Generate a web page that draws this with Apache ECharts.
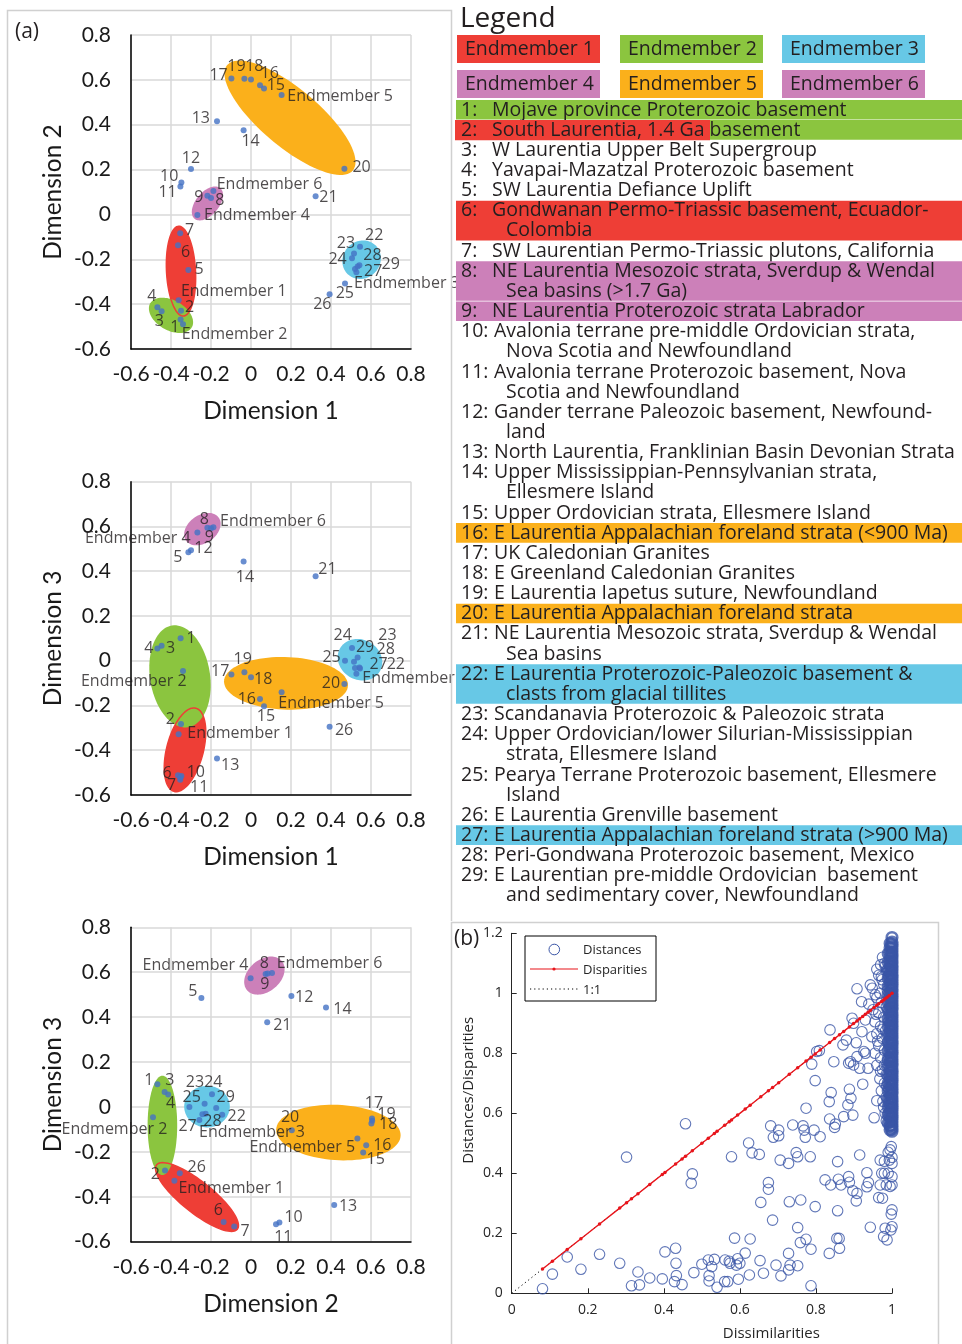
<!DOCTYPE html>
<html>
<head>
<meta charset="utf-8">
<title>MDS endmember plots</title>
<script src="https://cdn.jsdelivr.net/npm/echarts@6/dist/echarts.min.js"></script>
<style>
  html, body { margin: 0; padding: 0; background: #fff; }
  #chart { width: 962px; height: 1344px; }
</style>
</head>
<body>
<div id="chart"></div>
<script>
// sources 1..29 and the six endmembers
const pointNames = ['1','2','3','4','5','6','7','8','9','10','11','12','13','14','15','16','17','18','19','20',
  '21','22','23','24','25','26','27','28','29',
  'Endmember 1','Endmember 2','Endmember 3','Endmember 4','Endmember 5','Endmember 6'];
const dim1 = [-0.352,-0.35,-0.447,-0.468,-0.313,-0.365,-0.354,-0.2,-0.218,-0.348,-0.353,-0.3,-0.17,-0.037,0.065,0.045,-0.098,0.0,-0.033,0.467,
  0.323,0.545,0.542,0.505,0.47,0.393,0.527,0.515,0.533,
  -0.362,-0.34,0.52,-0.268,0.153,-0.188];
const dim2 = [-0.468,-0.43,-0.432,-0.414,-0.248,-0.137,-0.084,0.073,0.083,0.142,0.125,0.202,0.416,0.375,0.561,0.576,0.606,0.602,0.605,0.204,
  0.081,-0.144,-0.227,-0.195,-0.308,-0.356,-0.258,-0.174,-0.232,
  -0.383,-0.49,-0.243,-0.002,0.532,0.105];
const dim3 = [0.101,-0.283,0.067,0.055,0.485,-0.512,-0.532,0.592,0.594,-0.515,-0.522,0.494,-0.437,0.443,-0.203,-0.171,-0.061,-0.074,-0.051,-0.104,
  0.377,-0.035,-0.03,0.057,0.0,-0.295,-0.058,-0.005,0.014,
  -0.329,-0.046,-0.033,0.573,-0.141,0.596];
const axisTicks = [-0.6, -0.4, -0.2, 0, 0.2, 0.4, 0.6, 0.8];

// endmember ellipses: [centre x, centre y, semi-axis a (px), semi-axis b (px), tilt deg, endmember]
const ellipses1 = [[0.195,0.431,82,29,40,5],[-0.218,0.049,20,11.5,-50,4],[-0.35,-0.253,45,14.5,87,1],[-0.4,-0.45,24,15,30,2],[0.553,-0.202,20,18.5,-45,3]];
const ellipses2 = [[-0.243,0.588,20,14,-35,4],[0.175,-0.101,62,26.3,2,5],[0.545,0.0045,23,20,30,3],[-0.33,-0.398,43,18.3,104.6,1],[-0.355,-0.07,51.5,30,81,2]];
const ellipses3 = [[0.067,0.585,22.7,16,-40,4],[-0.22,0.0015,22.8,20.8,0,3],[0.437,-0.114,62.3,27.7,3,5],[-0.27,-0.401,51.6,15.5,38.6,1],[-0.443,-0.082,49.7,14.8,90,2]];

// label placement: [dx, dy, align]
const labels1 = {'1':[-1.3,7.7,'right'],'2':[4,-3,'left'],'3':[-2.3,10,'center'],'4':[-5.7,-10.7,'center'],'5':[6,-0.7,'left'],
  '6':[3,7,'left'],'7':[4.7,-3.3,'left'],'8':[4.3,2.7,'left'],'9':[-4,1.3,'right'],'10':[-3,-6,'right'],'11':[-3.7,6.3,'right'],
  '12':[0,-10.7,'center'],'13':[-7,-2.3,'right'],'14':[7,10.7,'center'],'15':[2.7,-3.3,'left'],'16':[9.7,-12,'center'],
  '17':[-3.7,-3.3,'right'],'18':[3.3,-13.3,'center'],'19':[-8,-12.7,'center'],'20':[8,-1.3,'left'],'21':[3.7,1,'left'],
  '22':[5,-11.3,'left'],'23':[-4.3,-21.7,'right'],'24':[-5.3,1.3,'right'],'25':[-9.3,10.3,'left'],'26':[-7.3,10.3,'center'],
  '27':[7.7,-0.7,'left'],'28':[9.3,1.7,'left'],'29':[24,-2,'left'],
  'Endmember 1':[2.3,-9,'left'],'Endmember 2':[-1.3,10.3,'left'],'Endmember 3':[-1,14.7,'left'],
  'Endmember 4':[6.7,1,'left'],'Endmember 5':[5.7,1.7,'left'],'Endmember 6':[3.3,-6.7,'left']};
const labels2 = {'1':[6,0,'left'],'2':[-6,-5,'right'],'3':[4.3,3,'left'],'4':[-4,0,'right'],'5':[-6,5,'right'],
  '6':[-6.3,-2.3,'right'],'7':[-8.7,5.7,'center'],'8':[-6.7,-9,'center'],'9':[2,9.7,'center'],'10':[5.3,-4,'left'],
  '11':[9.7,9.7,'left'],'12':[3.3,-2,'left'],'13':[4,7.3,'left'],'14':[1.3,15.7,'center'],'15':[2,10.3,'center'],
  '16':[-4,0,'right'],'17':[-2,-3,'right'],'18':[3,1.7,'left'],'19':[-1.7,-12.3,'center'],'20':[-4.3,-1,'right'],
  '21':[2.7,-7.3,'left'],'22':[26.7,-3.7,'left'],'23':[28,-31.7,'center'],'24':[-9.3,-12.3,'center'],'25':[-4.3,-3.7,'right'],
  '26':[5.3,3.7,'left'],'27':[13,-9,'left'],'28':[31.7,-12.7,'center'],'29':[-1.7,-10.3,'left'],
  'Endmember 1':[8.7,-1.3,'left'],'Endmember 2':[3.7,10.3,'right'],'Endmember 3':[7.3,10,'left'],
  'Endmember 4':[-6.7,6,'right'],'Endmember 5':[-3.3,11.3,'left'],'Endmember 6':[6.7,-5.7,'left']};
const labels3 = {'1':[-4,-4.3,'right'],'2':[-5,3.7,'right'],'3':[5.3,-11.3,'center'],'4':[2.3,8.7,'center'],'5':[-4,-6.7,'right'],
  '6':[-5.3,-12,'center'],'7':[6.3,4.7,'left'],'8':[-1.3,-11,'center'],'9':[-2.7,11.3,'center'],'10':[5,-5.3,'left'],
  '11':[7.3,13.3,'center'],'12':[3.7,1.3,'left'],'13':[4.7,1.7,'left'],'14':[7.3,1.7,'left'],'15':[3.3,6.7,'left'],
  '16':[7,-0.3,'left'],'17':[1.7,-17.3,'center'],'18':[7.7,1.3,'left'],'19':[5.3,-4.3,'left'],'20':[-1.7,-13,'center'],
  '21':[6,2.7,'left'],'22':[5.3,1.7,'left'],'23':[-10.7,-31.3,'center'],'24':[1.3,-12,'center'],'25':[2.3,-9.7,'center'],
  '26':[7.7,-5.7,'left'],'27':[-2.7,6.7,'right'],'28':[-3.7,13.7,'center'],'29':[12,-6.7,'left'],
  'Endmember 1':[4,7.7,'left'],'Endmember 2':[14.3,12,'right'],'Endmember 3':[-3.3,18.3,'left'],
  'Endmember 4':[-2.3,-13.3,'right'],'Endmember 5':[-2.3,8.7,'right'],'Endmember 6':[4.7,-10,'left']};

// panel (b): dissimilarity vs distance
const lowDistances = [[0.081,0.015],[0.107,0.064],[0.146,0.121],[0.182,0.08],[0.231,0.13],[0.284,0.1],[0.302,0.454],[0.315,0.025],
  [0.332,0.071],[0.336,0.028],[0.363,0.051],[0.396,0.048],[0.403,0.138],[0.428,0.039],[0.431,0.15],[0.432,0.1],[0.433,0.059],
  [0.448,0.029],[0.457,0.565],[0.475,0.398],[0.472,0.367],[0.479,0.069],[0.5,0.097],[0.517,0.111],[0.519,0.059],[0.519,0.041],
  [0.526,0.089],[0.533,0.113],[0.54,0.02],[0.56,0.039],[0.561,0.111],[0.568,0.039],[0.572,0.107],[0.574,0.1],[0.578,0.455],
  [0.586,0.184],[0.591,0.094],[0.594,0.115],[0.596,0.047],[0.6,0.1],[0.614,0.134],[0.623,0.501],[0.625,0.061],[0.627,0.181],
  [0.632,0.468],[0.651,0.463],[0.653,0.109],[0.655,0.303],[0.662,0.067]];
const midDistances = [[0.837,0.878],[0.789,0.764],[0.809,0.809],[0.802,0.806],[0.798,0.709],[0.871,0.828],[0.88,0.844],[0.906,0.835],
  [0.886,0.767],[0.899,0.761],[0.915,0.75],[0.908,0.789],[0.93,0.8],[0.937,0.75],[0.923,0.697],[0.96,0.642],[0.953,0.585],
  [0.84,0.669],[0.835,0.639],[0.888,0.68],[0.892,0.65],[0.884,0.628],[0.897,0.594],[0.873,0.589],[0.836,0.581],[0.851,0.564],
  [0.849,0.553],[0.774,0.617],[0.681,0.558],[0.702,0.544],[0.688,0.52],[0.702,0.525],[0.739,0.561],[0.766,0.558],[0.769,0.544],
  [0.772,0.52],[0.795,0.544],[0.811,0.522],[0.706,0.444],[0.728,0.433],[0.748,0.469],[0.752,0.455],[0.785,0.455],[0.857,0.439],
  [0.915,0.461],[0.675,0.369],[0.675,0.347],[0.73,0.305],[0.76,0.311],[0.798,0.289],[0.824,0.378],[0.839,0.361],[0.859,0.38],
  [0.866,0.361],[0.886,0.389],[0.888,0.37],[0.897,0.342],[0.908,0.333],[0.906,0.308],[0.934,0.402],[0.938,0.369],[0.934,0.355],
  [0.969,0.361],[0.965,0.319],[0.969,0.444],[0.973,0.4],[0.857,0.275],[0.686,0.244],[0.752,0.219],[0.943,0.22],[0.759,0.169],
  [0.774,0.18],[0.787,0.147],[0.855,0.183],[0.861,0.183],[0.862,0.15],[0.835,0.133],[0.728,0.133],[0.695,0.094],[0.732,0.094],
  [0.752,0.092],[0.728,0.078],[0.708,0.058],[0.787,0.025],[0.978,0.189],[0.982,0.217],[0.987,0.178],
  [0.908,1.015],[0.943,1.028],[0.948,1.017],[0.92,0.972],[0.939,0.964],[0.956,0.995],[0.972,1.056],[0.974,1.045],[0.97,1.095],
  [0.895,0.917],[0.899,0.9],[0.921,0.872],[0.93,0.911],[0.847,0.772],[0.891,0.772],[0.926,0.806]];
const nearOneDistances = [[0.96,1.08],[0.975,1.12],[0.98,1.1],[0.985,1.075],[0.99,1.06],[0.965,1.06],[0.978,1.03],[0.988,1.01],
  [0.96,0.985],[0.972,0.97],[0.985,0.955],[0.95,0.945],[0.965,0.935],[0.978,0.92],[0.99,0.905],[0.955,0.905],[0.97,0.89],
  [0.983,0.875],[0.96,0.865],[0.947,0.855],[0.975,0.85],[0.99,0.84],[0.965,0.825],[0.98,0.81],[0.955,0.8],[0.97,0.785],
  [0.988,0.775],[0.96,0.76],[0.975,0.745],[0.985,0.73],[0.968,0.715],[0.98,0.7],[0.99,0.685],[0.972,0.675],[0.985,0.655],
  [0.99,0.635],[0.978,0.62],[0.99,0.6],[0.985,0.575],[0.995,0.56],[0.982,1.09],[0.968,1.0],[0.958,0.93],[0.976,0.88],
  [0.962,0.84],[0.98,0.76],[0.97,0.74],[0.986,0.69],[0.976,0.64],[0.982,0.6],
  [0.998,0.489],[0.995,0.478],[1.0,0.453],[0.993,0.444],[1.0,0.433],[0.99,0.4],[1.0,0.389],[1.0,0.361],[0.995,0.356],
  [0.985,0.361],[0.975,0.317],[1.0,0.278],[0.998,0.264],[1.0,0.222],[0.997,0.211],[0.99,0.47],[0.98,0.44],[0.98,0.4]];
// the packed stack of pairs at dissimilarity 1
const columnAt1 = [1.186,1.171,1.163,1.156,1.148,1.139,1.131,1.125,1.116,1.108,1.101,1.092,1.084,1.078,1.069,1.061,1.054,1.046,
  1.037,1.03,1.023,1.013,1.006,0.998,0.99,0.983,0.975,0.966,0.959,0.952,0.944,0.935,0.928,0.92,0.912,0.905,0.896,0.889,
  0.882,0.873,0.865,0.858,0.851,0.842,0.834,0.827,0.819,0.81,0.803,0.796,0.788,0.779,0.772,0.765,0.757,0.748,0.741,0.734,
  0.726,0.717,0.71,0.703,0.695,0.686,0.679,0.672,0.664,0.655,0.648,0.641,0.633,0.624,0.617,0.61,0.602,0.593,0.586,0.579,
  0.571,0.562,0.555,0.548,0.54];
const columnAt0995 = [1.166,1.152,1.137,1.121,1.107,1.092,1.076,1.061,1.046,1.031,1.015,1.0,0.985,0.969,0.955,0.939,0.924,
  0.908,0.894,0.878,0.863,0.847,0.833,0.817,0.802,0.786,0.772,0.756,0.741,0.725,0.711,0.695,0.68,0.664,0.65,0.634,0.619,
  0.603,0.589,0.573,0.558,0.545];
const columnAt099 = [1.132,1.104,1.078,1.05,1.023,0.997,0.969,0.943,0.915,0.889,0.862,0.835,0.808,0.781,0.755,0.727,0.701,
  0.674,0.647,0.621,0.594,0.568];
const disparities = [[0.081,0.081],[0.107,0.107],[0.146,0.146],[0.182,0.182],[0.231,0.231],[0.284,0.284],[0.302,0.302],
  [0.315,0.315],[0.332,0.332],[0.363,0.363],[0.396,0.396],[0.403,0.403],[0.431,0.431],[0.448,0.448],[0.457,0.457],
  [0.475,0.475],[0.5,0.5],[0.517,0.517],[0.533,0.533],[0.54,0.54],[0.56,0.56],[0.572,0.572],[0.578,0.578],[0.594,0.594],
  [0.614,0.614],[0.627,0.627],[0.655,0.655],[0.675,0.675],[0.686,0.686],[0.702,0.702],[0.73,0.73],[0.752,0.752],
  [0.774,0.774],[0.787,0.787],[0.798,0.798],[0.811,0.811],[0.836,0.836],[0.849,0.849],[0.862,0.862],[0.873,0.873],
  [0.888,0.888],[0.899,0.899],[0.908,0.908],[0.915,0.915],[0.923,0.923],[0.93,0.93],[0.937,0.937],[0.943,0.943],
  [0.953,0.953],[0.96,0.96],[0.965,0.965],[0.973,0.973],[0.978,0.978],[0.982,0.982],[0.987,0.987],[0.993,0.993],[1.0,1.0]];
const oneToOne = [[0, 0], [1, 1]];

// right hand legend
const endmemberNames = ['Endmember 1','Endmember 2','Endmember 3','Endmember 4','Endmember 5','Endmember 6'];
const legendRows = [
  ['1:', ['Mojave province Proterozoic basement']],
  ['2:', ['South Laurentia, 1.4 Ga basement']],
  ['3:', ['W Laurentia Upper Belt Supergroup']],
  ['4:', ['Yavapai-Mazatzal Proterozoic basement']],
  ['5:', ['SW Laurentia Defiance Uplift']],
  ['6:', ['Gondwanan Permo-Triassic basement, Ecuador-', 'Colombia']],
  ['7:', ['SW Laurentian Permo-Triassic plutons, California']],
  ['8:', ['NE Laurentia Mesozoic strata, Sverdup & Wendal', 'Sea basins (>1.7 Ga)']],
  ['9:', ['NE Laurentia Proterozoic strata Labrador']],
  ['10:', ['Avalonia terrane pre-middle Ordovician strata,', 'Nova Scotia and Newfoundland']],
  ['11:', ['Avalonia terrane Proterozoic basement, Nova', 'Scotia and Newfoundland']],
  ['12:', ['Gander terrane Paleozoic basement, Newfound-', 'land']],
  ['13:', ['North Laurentia, Franklinian Basin Devonian Strata']],
  ['14:', ['Upper Mississippian-Pennsylvanian strata,', 'Ellesmere Island']],
  ['15:', ['Upper Ordovician strata, Ellesmere Island']],
  ['16:', ['E Laurentia Appalachian foreland strata (<900 Ma)']],
  ['17:', ['UK Caledonian Granites']],
  ['18:', ['E Greenland Caledonian Granites']],
  ['19:', ['E Laurentia Iapetus suture, Newfoundland']],
  ['20:', ['E Laurentia Appalachian foreland strata']],
  ['21:', ['NE Laurentia Mesozoic strata, Sverdup & Wendal', 'Sea basins']],
  ['22:', ['E Laurentia Proterozoic-Paleozoic basement &', 'clasts from glacial tillites']],
  ['23:', ['Scandanavia Proterozoic & Paleozoic strata']],
  ['24:', ['Upper Ordovician/lower Silurian-Mississippian', 'strata, Ellesmere Island']],
  ['25:', ['Pearya Terrane Proterozoic basement, Ellesmere', 'Island']],
  ['26:', ['E Laurentia Grenville basement']],
  ['27:', ['E Laurentia Appalachian foreland strata (>900 Ma)']],
  ['28:', ['Peri-Gondwana Proterozoic basement, Mexico']],
  ['29:', ['E Laurentian pre-middle Ordovician  basement', 'and sedimentary cover, Newfoundland']]
];
const rowHighlight = {'1:': 2, '2:': 2, '6:': 1, '8:': 4, '9:': 4, '16:': 5, '20:': 5, '22:': 3, '27:': 3};

const emColors = {1: '#ee3e36', 2: '#8bc53f', 3: '#67c8e6', 4: '#cc80b9', 5: '#fbb01b', 6: '#cc80b9'};
const ink = '#231f20';
const textFont = 'Open Sans';
const axisFont = 'Lato';
const ringColor = '#3a55a6';

const chart = echarts.init(document.getElementById('chart'));

const grids = [
  {left: 131, top: 35, width: 280, height: 314},
  {left: 131, top: 481.7, width: 280, height: 313.3},
  {left: 131, top: 927.3, width: 280, height: 314.4},
  {left: 511.7, top: 933.3, width: 380.3, height: 360}
];

function fmt(v) {
  return String(Math.round(v * 10) / 10);
}

function dimAxis(gi, name, isY) {
  return {
    type: 'value', gridIndex: gi,
    min: axisTicks[0], max: axisTicks[axisTicks.length - 1], interval: 0.2,
    name: name, nameLocation: 'middle', nameGap: isY ? 65 : 50,
    nameTextStyle: {fontFamily: axisFont, fontSize: 24.5, color: '#1a1a1a'},
    axisLine: {show: true, onZero: false, lineStyle: {color: '#000', width: 1.5}},
    axisTick: {show: false},
    axisLabel: {fontFamily: axisFont, fontSize: 21, color: '#1a1a1a', margin: isY ? 20 : 15, formatter: fmt},
    splitLine: {show: true, lineStyle: {color: '#d9d9d9', width: 1.5}}
  };
}

function ellipseSeries(gi, list, outline) {
  return {
    type: 'custom', coordinateSystem: 'cartesian2d', xAxisIndex: gi, yAxisIndex: gi,
    data: outline ? list.filter(e => e[5] === 1) : list,
    encode: {x: 0, y: 1}, clip: false, silent: true, z: outline ? 3 : 2,
    renderItem: function (params, api) {
      const c = api.coord([api.value(0), api.value(1)]);
      const a = api.value(2), b = api.value(3), rot = api.value(4) * Math.PI / 180;
      const pts = [];
      for (let k = 0; k < 90; k++) {
        const t = k / 90 * Math.PI * 2;
        const ex = a * Math.cos(t), ey = b * Math.sin(t);
        pts.push([c[0] + ex * Math.cos(rot) - ey * Math.sin(rot), c[1] + ex * Math.sin(rot) + ey * Math.cos(rot)]);
      }
      return {
        type: 'polygon', shape: {points: pts},
        style: outline ? {fill: 'none', stroke: emColors[1], lineWidth: 1.5} : {fill: emColors[api.value(5)]}
      };
    }
  };
}

function pointSeries(gi, xs, ys, placement) {
  return {
    type: 'scatter', xAxisIndex: gi, yAxisIndex: gi, z: 4, symbolSize: 6,
    itemStyle: {color: '#4472c4'},
    label: {show: true, position: 'inside', formatter: '{b}', verticalAlign: 'middle',
      fontFamily: textFont, fontSize: 16, color: ink},
    data: pointNames.map(function (n, i) {
      const p = placement[n] || [5, 0, 'left'];
      return {name: n, value: [xs[i], ys[i]], label: {offset: [p[0], p[1]], align: p[2]}};
    })
  };
}

// graphic: frames, legend boxes and text (own layer so it sits over overflowing point labels)
const graphics = [];
const frameStyle = {stroke: '#d0d0d0', lineWidth: 1.5, fill: 'none'};
graphics.push({type: 'polyline', shape: {points: [[451.5, 921], [451.5, 10.5], [7.5, 10.5], [7.5, 1344]]}, style: frameStyle});
graphics.push({type: 'polyline', shape: {points: [[451.5, 1344], [451.5, 922.5], [938.5, 922.5], [938.5, 1344]]}, style: frameStyle});
graphics.push({type: 'text', x: 15, y: 32, style: {text: '(a)', fontFamily: textFont, fontSize: 21, fill: ink, verticalAlign: 'middle'}});
graphics.push({type: 'text', x: 454, y: 939, style: {text: '(b)', fontFamily: textFont, fontSize: 21, fill: ink, verticalAlign: 'middle'}});
graphics.push({type: 'text', x: 460, y: 19, style: {text: 'Legend', fontFamily: textFont, fontSize: 28, fill: ink, verticalAlign: 'middle'}});

const boxX = [457, 620, 782];
endmemberNames.forEach(function (n, i) {
  const x = boxX[i % 3], y = i < 3 ? 35 : 70;
  graphics.push({type: 'rect', shape: {x: x, y: y, width: 143, height: 28}, style: {fill: emColors[i + 1]}});
  graphics.push({type: 'text', x: x + 8, y: y + 14.5, style: {text: n, fontFamily: textFont, fontSize: 19.5, fill: ink, verticalAlign: 'middle'}});
});

const lineH = 20.15;
let lineNo = 0;
legendRows.forEach(function (row) {
  const n = row[1].length;
  const yTop = 110 + lineNo * lineH - lineH / 2;
  const hl = rowHighlight[row[0]];
  if (hl) {
    graphics.push({type: 'rect', shape: {x: 456, y: yTop, width: 506, height: n * lineH - 0.6}, style: {fill: emColors[hl]}});
  }
  if (row[0] === '2:') {
    graphics.push({type: 'rect', shape: {x: 455, y: yTop, width: 255, height: lineH}, style: {fill: emColors[1]}});
  }
  row[1].forEach(function (txt, j) {
    const y = 110 + (lineNo + j) * lineH;
    if (j === 0) {
      graphics.push({type: 'text', x: 461, y: y, style: {text: row[0], fontFamily: textFont, fontSize: 19.5, fill: ink, verticalAlign: 'middle'}});
    }
    const x = j > 0 ? 506 : (row[0].length > 2 ? 494 : 492);
    graphics.push({type: 'text', x: x, y: y, style: {text: txt, fontFamily: textFont, fontSize: 19.5, fill: ink, verticalAlign: 'middle'}});
  });
  lineNo += n;
});

// legend of panel (b)
graphics.push({type: 'rect', shape: {x: 525, y: 936, width: 131, height: 65}, style: {fill: '#fff', stroke: '#000', lineWidth: 1}});
graphics.push({type: 'circle', shape: {cx: 554.3, cy: 949.5, r: 5.3}, style: {fill: 'none', stroke: ringColor, lineWidth: 1}});
graphics.push({type: 'line', shape: {x1: 530, y1: 969, x2: 578, y2: 969}, style: {stroke: '#e8141b', lineWidth: 1.2}});
graphics.push({type: 'circle', shape: {cx: 554, cy: 969, r: 1.6}, style: {fill: '#e8141b'}});
graphics.push({type: 'line', shape: {x1: 530, y1: 989, x2: 580, y2: 989}, style: {stroke: '#000', lineWidth: 1, lineDash: [1.2, 3]}});
[['Distances', 950], ['Disparities', 970], ['1:1', 990]].forEach(function (t) {
  graphics.push({type: 'text', x: 583, y: t[1], style: {text: t[0], fontFamily: textFont, fontSize: 13, fill: '#262626', verticalAlign: 'middle'}});
});
graphics.forEach(function (g) { g.zlevel = 1; });

const bAxisLine = {lineStyle: {color: '#262626', width: 1}};
const bTick = {inside: true, length: 5, lineStyle: {color: '#262626'}};
const bLabel = {fontFamily: textFont, fontSize: 14, color: '#262626', formatter: fmt};

const columnPoints = columnAt1.map(v => [1.0, v])
  .concat(columnAt0995.map(v => [0.995, v]), columnAt099.map(v => [0.99, v]));

const option = {
  animation: false,
  backgroundColor: '#fff',
  grid: grids,
  xAxis: [
    dimAxis(0, 'Dimension 1', false),
    dimAxis(1, 'Dimension 1', false),
    dimAxis(2, 'Dimension 2', false),
    {type: 'value', gridIndex: 3, min: 0, max: 1, interval: 0.2,
      axisLine: bAxisLine, axisTick: bTick, splitLine: {show: false},
      axisLabel: Object.assign({margin: 10}, bLabel),
      name: 'Dissimilarities', nameLocation: 'middle', nameGap: 33,
      nameTextStyle: {fontFamily: textFont, fontSize: 15, color: '#262626', padding: [0, 0, 0, 139]}}
  ],
  yAxis: [
    dimAxis(0, 'Dimension 2', true),
    dimAxis(1, 'Dimension 3', true),
    dimAxis(2, 'Dimension 3', true),
    {type: 'value', gridIndex: 3, min: 0, max: 1.2, interval: 0.2,
      axisLine: bAxisLine, axisTick: bTick, splitLine: {show: false},
      axisLabel: Object.assign({margin: 9}, bLabel),
      name: 'Distances/Disparities', nameLocation: 'middle', nameGap: 35,
      nameTextStyle: {fontFamily: textFont, fontSize: 15, color: '#262626', padding: [0, 0, 0, 46]}}
  ],
  series: [
    ellipseSeries(0, ellipses1, false), ellipseSeries(0, ellipses1, true), pointSeries(0, dim1, dim2, labels1),
    ellipseSeries(1, ellipses2, false), ellipseSeries(1, ellipses2, true), pointSeries(1, dim1, dim3, labels2),
    ellipseSeries(2, ellipses3, false), ellipseSeries(2, ellipses3, true), pointSeries(2, dim2, dim3, labels3),
    {name: 'Distances', type: 'scatter', xAxisIndex: 3, yAxisIndex: 3, z: 2, symbol: 'circle', symbolSize: 10.5,
      itemStyle: {color: 'rgba(0,0,0,0)', borderColor: ringColor, borderWidth: 1.1},
      data: lowDistances.concat(midDistances, nearOneDistances)},
    // the packed stack: overlapping rings read as a solid bar in the figure
    {name: 'Distances', type: 'scatter', xAxisIndex: 3, yAxisIndex: 3, z: 2, symbol: 'circle', symbolSize: 10.5,
      itemStyle: {color: 'rgba(0,0,0,0)', borderColor: ringColor, borderWidth: 2.6},
      data: columnPoints},
    {name: '1:1', type: 'line', xAxisIndex: 3, yAxisIndex: 3, z: 3, symbol: 'none',
      lineStyle: {color: '#000', width: 1, type: [1.2, 3]}, data: oneToOne},
    {name: 'Disparities', type: 'line', xAxisIndex: 3, yAxisIndex: 3, z: 4, symbol: 'circle', symbolSize: 3.5,
      itemStyle: {color: '#e8141b'}, lineStyle: {color: '#e8141b', width: 1.4}, data: disparities}
  ],
  graphic: {elements: graphics}
};

chart.setOption(option);
</script>
</body>
</html>
